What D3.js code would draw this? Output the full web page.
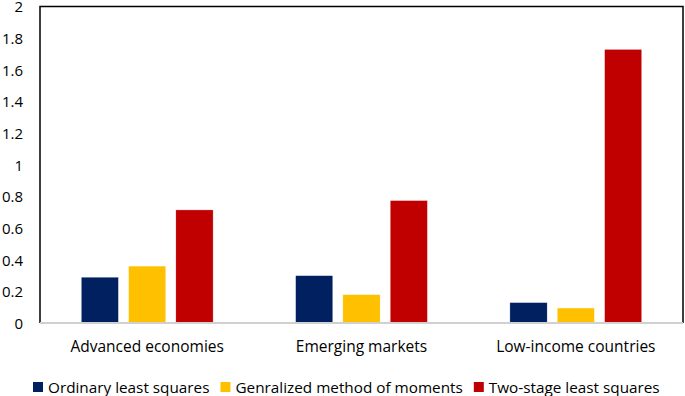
<!DOCTYPE html>
<html lang="en">
<head>
    <meta charset="UTF-8">
    <script src="https://d3js.org/d3.v7.min.js"></script>
    <title>Estimates by country group</title>
    <style>
        body { margin: 0; background: #fff; }
        svg { display: block; }
        text { font-family: "Open Sans", "Noto Sans", sans-serif; fill: #000; }
    </style>
</head>
<body>
    <svg width="685" height="396"></svg>

    <script>
        const categories = ['Advanced economies', 'Emerging markets', 'Low-income countries'];
        const seriesNames = ['Ordinary least squares', 'Genralized method of moments', 'Two-stage least squares'];
        const ols = [0.29, 0.30, 0.13];
        const gmm = [0.36, 0.18, 0.095];
        const tsls = [0.715, 0.775, 1.73];
        const yTicks = [0, 0.2, 0.4, 0.6, 0.8, 1, 1.2, 1.4, 1.6, 1.8, 2];
        const colors = ['#002060', '#ffc000', '#c00000'];

        const seriesValues = [ols, gmm, tsls];
        const width = 685;
        const margin = { top: 6.5, bottom: 73, left: 40, right: 2 };
        const plotBottom = 396 - margin.bottom;

        const svg = d3.select('svg');

        const x0 = d3.scaleBand()
            .domain(categories)
            .range([margin.left, width - margin.right]);

        const x1 = d3.scaleBand()
            .domain(seriesNames)
            .range([-66, 66])
            .paddingInner(0.21);

        const y = d3.scaleLinear()
            .domain([0, 2])
            .range([plotBottom, margin.top]);

        // frame
        svg.append('path')
            .attr('d', `M${margin.left},${plotBottom} V${margin.top} H${width - margin.right} V${plotBottom}`)
            .attr('fill', 'none')
            .attr('stroke', '#000')
            .attr('stroke-width', 1.5);

        const groups = svg.selectAll('g.group')
            .data(categories)
            .enter().append('g')
            .attr('class', 'group')
            .attr('transform', d => `translate(${x0(d) + x0.bandwidth() / 2},0)`);

        groups.selectAll('rect')
            .data((d, i) => seriesNames.map((s, j) => ({ s, j, v: seriesValues[j][i] })))
            .enter().append('rect')
            .attr('x', d => x1(d.s))
            .attr('width', x1.bandwidth())
            .attr('y', d => y(d.v))
            .attr('height', d => y(0) - y(d.v))
            .attr('fill', d => colors[d.j])
            .attr('stroke', '#fff')
            .attr('stroke-width', 0.5);

        // baseline
        svg.append('line')
            .attr('x1', margin.left)
            .attr('x2', width - margin.right)
            .attr('y1', plotBottom)
            .attr('y2', plotBottom)
            .attr('stroke', '#d0d0d0')
            .attr('stroke-width', 2);

        const yAxis = d3.axisLeft(y)
            .tickValues(yTicks)
            .tickSize(0)
            .tickPadding(0)
            .tickFormat(d => String(d));

        svg.append('g')
            .attr('transform', 'translate(23,0.5)')
            .call(yAxis)
            .call(g => g.select('.domain').remove())
            .selectAll('text')
            .style('font-size', '15px')
            .style('font-family', '"Open Sans", sans-serif');

        const xAxis = d3.axisBottom(x0).tickSize(0).tickPadding(18);
        svg.append('g')
            .attr('transform', `translate(0,${plotBottom})`)
            .call(xAxis)
            .call(g => g.select('.domain').remove())
            .selectAll('text')
            .style('font-size', '15.5px')
            .style('font-family', '"Open Sans", sans-serif');

        // legend
        const legend = svg.append('g').attr('transform', 'translate(0,387)');
        let lx = 33;
        seriesNames.forEach((name, i) => {
            legend.append('rect')
                .attr('x', lx)
                .attr('y', -5)
                .attr('width', 10)
                .attr('height', 10)
                .attr('fill', colors[i]);
            const t = legend.append('text')
                .attr('x', lx + 15)
                .attr('dy', '0.36em')
                .style('font-size', '15.3px')
                .text(name);
            lx += 15 + t.node().getComputedTextLength() + 11;
        });
    </script>
</body>
</html>
